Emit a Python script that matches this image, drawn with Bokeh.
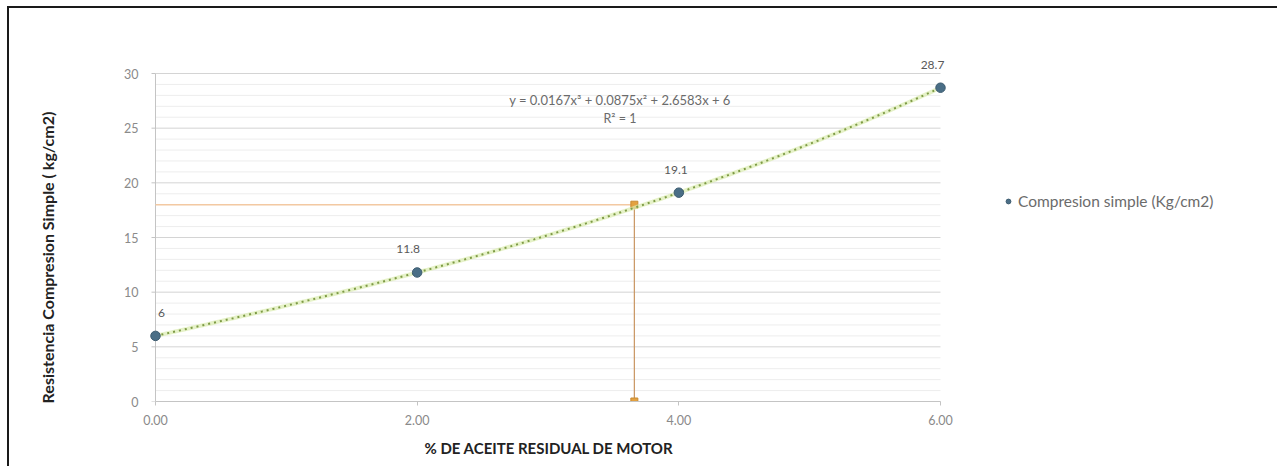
import numpy as np
from bokeh.plotting import figure
from bokeh.models import (ColumnDataSource, FixedTicker, NumeralTickFormatter, Label,
                          Legend, LegendItem, Title)
from bokeh.core.properties import value
from bokeh.embed import file_html
from bokeh.resources import INLINE

# Measured compressive strength vs. % residual motor oil
oil_pct = [0.0, 2.0, 4.0, 6.0]
strength = [6.0, 11.8, 19.1, 28.7]
strength_labels = ["6", "11.8", "19.1", "28.7"]

# Reading of the design strength on the trend curve
guide_x = 3.66
guide_y = 18.0

x_ticks = [0, 2, 4, 6]
y_ticks = [0, 5, 10, 15, 20, 25, 30]
y_minor = [v for v in range(0, 31) if v % 5 != 0]

FONT = "Lato"
GRAY_TXT = "#6b6b6b"
AXIS_GRAY = "#c4c4c4"

# cubic trend through the measured points
coef = np.polyfit(oil_pct, strength, 3)
xs = np.linspace(0, 6, 200)
ys = np.polyval(coef, xs)
eq_text = "y = {:.4f}x³ + {:.4f}x² + {:.4f}x + {:g}".format(
    coef[0], coef[1], coef[2], round(coef[3], 4))

# frame geometry (canvas pixels) and the matching data windows
W, H = 1270, 460
px_per_x = 785 / 6.0
px_per_y = 328 / 30.0
B_LEFT, B_RIGHT, B_TOP, B_BOTTOM = 136, 0, 39, 67
x_start = -10 / px_per_x
x_end = x_start + (W - B_LEFT - B_RIGHT) / px_per_x
y_end = (H - B_TOP - B_BOTTOM) / px_per_y

p = figure(width=W, height=H, x_range=(x_start, x_end), y_range=(0, y_end),
           output_backend="svg", toolbar_location=None,
           min_border_left=B_LEFT, min_border_right=B_RIGHT,
           min_border_top=B_TOP, min_border_bottom=B_BOTTOM)
p.styles = {"border-top": "2px solid #1a1a1a", "border-left": "2px solid #1a1a1a",
            "margin-left": "7px", "margin-top": "6px"}
p.outline_line_color = None
p.background_fill_color = "white"
p.xgrid.grid_line_color = None
p.ygrid.grid_line_color = None

# horizontal gridlines spanning the 0-6 window only
p.segment(x0=0, x1=6, y0=y_minor, y1=y_minor, line_color="#ededed", line_width=1)
p.segment(x0=0, x1=6, y0=y_ticks, y1=y_ticks, line_color="#d4d4d4", line_width=1)

# vertical value axis drawn at x = 0, with small outward ticks
tick_len = 4 / px_per_x
p.segment(x0=0, x1=0, y0=0, y1=30, line_color=AXIS_GRAY, line_width=1)
p.segment(x0=-tick_len, x1=0, y0=y_ticks, y1=y_ticks, line_color=AXIS_GRAY, line_width=1)

# axes
p.xaxis.ticker = FixedTicker(ticks=x_ticks)
p.xaxis.formatter = NumeralTickFormatter(format="0.00")
p.xaxis.bounds = (0, 6)
p.yaxis.ticker = FixedTicker(ticks=y_ticks)
p.yaxis.axis_line_color = None
p.yaxis.major_tick_line_color = None
p.yaxis.major_tick_out = 0
p.yaxis.major_tick_in = 0
p.xaxis.axis_line_color = AXIS_GRAY
p.xaxis.major_tick_line_color = AXIS_GRAY
p.xaxis.major_tick_out = 4
p.xaxis.major_tick_in = 0
for ax in (p.xaxis, p.yaxis):
    ax.minor_tick_line_color = None
    ax.major_label_text_font = FONT
    ax.major_label_text_font_size = "12.5px"
    ax.major_label_text_color = "#8a8a8a"
p.xaxis.major_label_standoff = 9
p.yaxis.major_label_standoff = 7

# value axis title; trailing no-break spaces lower it along the axis
p.yaxis.axis_label = "Resistencia Compresion Simple ( kg/cm2)" + "\u00a0" * 17
p.yaxis.axis_label_standoff = 64
p.yaxis.axis_label_text_font = FONT
p.yaxis.axis_label_text_font_style = "bold"
p.yaxis.axis_label_text_font_size = "16px"
p.yaxis.axis_label_text_color = "#222222"

# category axis title, placed under the 0-6 span
p.add_layout(Title(text="% DE ACEITE RESIDUAL DE MOTOR", align="left", offset=279,
                   standoff=19, text_font=FONT, text_font_style="bold",
                   text_font_size="15px", text_color="#222222"), "below")

# guide lines to read the design value
p.line([0, guide_x], [guide_y, guide_y], line_color="#f3c9a2", line_width=1.5)
p.line([guide_x, guide_x], [guide_y, 0], line_color="#c99560", line_width=1.2)
p.scatter([guide_x, guide_x], [guide_y, 0], marker="square", size=7,
          fill_color="#e3a13f", line_color="#c98a30")

# trend line
p.line(xs, ys, line_color="#dcecb0", line_width=4, line_alpha=0.7)
p.line(xs, ys, line_color="#7d9a45", line_width=2, line_dash="2 4")

# data points
src = ColumnDataSource(dict(x=oil_pct, y=strength, lab=strength_labels,
                            dx=[6, -9, -3, -8]))
pts = p.scatter("x", "y", source=src, size=9.5, fill_color="#4a6e86",
                line_color="#3d5c70", line_width=1)
p.text("x", "y", text="lab", source=src, x_offset="dx", y_offset=-23,
       text_align="center", text_baseline="middle", text_font=value(FONT),
       text_font_size="12px", text_color="#595959")

# equation of the trend
p.add_layout(Label(x=3.55, y=27.6, text=eq_text, text_align="center",
                   text_baseline="middle", text_font=FONT, text_font_size="13px",
                   text_color=GRAY_TXT))
p.add_layout(Label(x=3.55, y=25.9, text="R² = 1", text_align="center",
                   text_baseline="middle", text_font=FONT, text_font_size="12.5px",
                   text_color=GRAY_TXT))

legend = Legend(items=[LegendItem(label="Compresion simple (Kg/cm2)", renderers=[pts])],
                location=(857, 191), border_line_color=None,
                background_fill_alpha=0, label_text_font=FONT,
                label_text_font_size="15.5px", label_text_color=GRAY_TXT,
                glyph_width=12, glyph_height=12, label_standoff=4, padding=2)
p.add_layout(legend)

open("out.html", "w").write(file_html(p, INLINE))
